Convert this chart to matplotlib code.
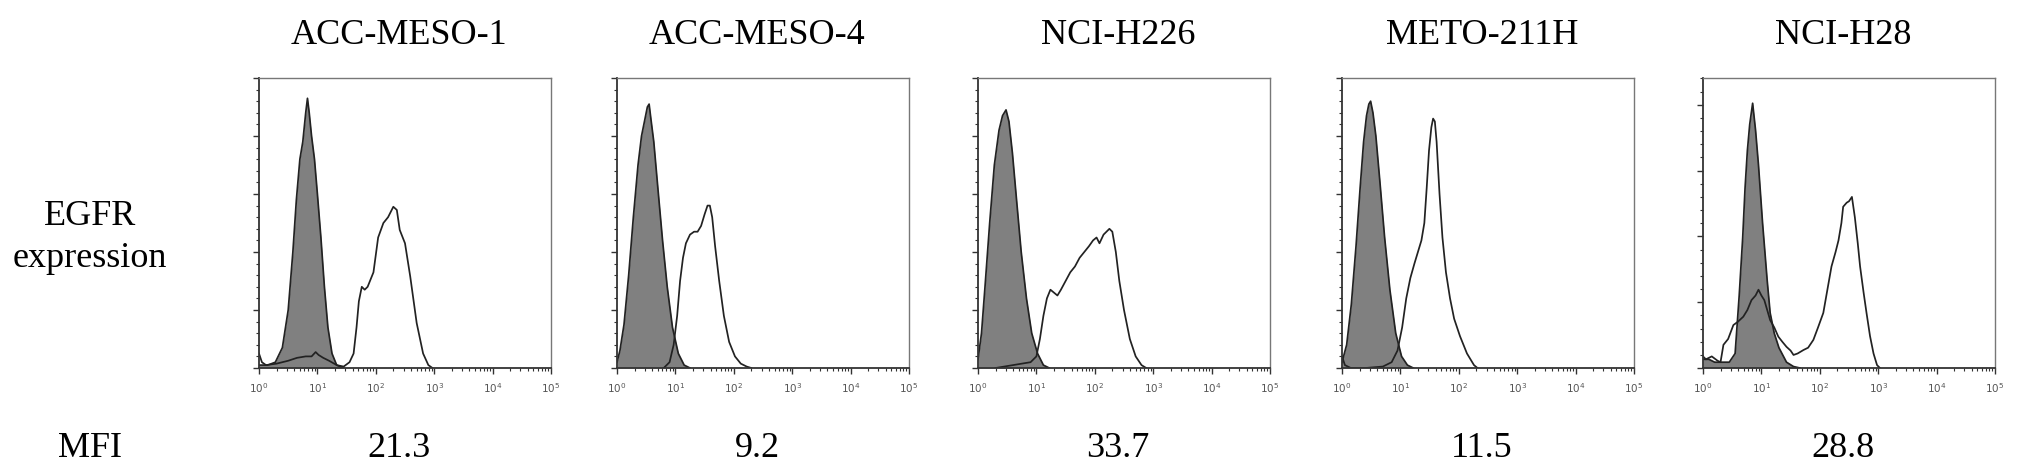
import numpy as np
import matplotlib
matplotlib.use("Agg")
import matplotlib.pyplot as plt
from matplotlib.ticker import LogLocator, MultipleLocator, NullFormatter

# cell lines and MFI values
cell_lines = ["ACC-MESO-1", "ACC-MESO-4", "NCI-H226", "METO-211H", "NCI-H28"]
mfi = ["21.3", "9.2", "33.7", "11.5", "28.8"]

# control (grey, filled) histograms: log10 intensity, fraction of axis height
iso_x = [
    [0.0, 0.15, 0.28, 0.40, 0.50, 0.58, 0.64, 0.70, 0.75, 0.80, 0.83, 0.86, 0.90, 0.95, 1.00, 1.06, 1.12, 1.18, 1.25, 1.33, 1.45],
    [0.0, 0.05, 0.12, 0.20, 0.28, 0.36, 0.42, 0.48, 0.52, 0.55, 0.58, 0.63, 0.70, 0.78, 0.86, 0.95, 1.05, 1.15, 1.25],
    [0.0, 0.06, 0.12, 0.20, 0.28, 0.36, 0.42, 0.48, 0.53, 0.59, 0.66, 0.74, 0.83, 0.92, 1.02, 1.12, 1.22],
    [0.0, 0.08, 0.16, 0.24, 0.31, 0.37, 0.42, 0.46, 0.49, 0.53, 0.58, 0.65, 0.73, 0.82, 0.92, 1.02, 1.12, 1.22],
    [0.0, 0.1, 0.2, 0.3, 0.45, 0.55, 0.62, 0.68, 0.72, 0.76, 0.80, 0.85, 0.90, 0.95, 1.02, 1.10, 1.15, 1.22, 1.30, 1.43, 1.55, 1.66],
]
iso_y = [
    [0.01, 0.01, 0.02, 0.07, 0.20, 0.40, 0.58, 0.72, 0.78, 0.88, 0.93, 0.88, 0.80, 0.72, 0.60, 0.45, 0.28, 0.14, 0.05, 0.01, 0.0],
    [0.02, 0.06, 0.15, 0.32, 0.52, 0.70, 0.80, 0.86, 0.90, 0.91, 0.86, 0.78, 0.62, 0.44, 0.28, 0.14, 0.05, 0.01, 0.0],
    [0.03, 0.12, 0.28, 0.50, 0.70, 0.82, 0.87, 0.89, 0.85, 0.74, 0.58, 0.40, 0.24, 0.12, 0.05, 0.01, 0.0],
    [0.02, 0.08, 0.22, 0.42, 0.62, 0.78, 0.87, 0.91, 0.92, 0.88, 0.80, 0.64, 0.45, 0.27, 0.12, 0.04, 0.01, 0.0],
    [0.03, 0.03, 0.02, 0.02, 0.02, 0.05, 0.25, 0.45, 0.62, 0.75, 0.84, 0.913, 0.82, 0.70, 0.50, 0.30, 0.19, 0.12, 0.07, 0.02, 0.005, 0.0],
]

# EGFR (open) histograms
egfr_x = [
    [0.0, 0.05, 0.12, 0.3, 0.5, 0.65, 0.8, 0.9, 0.97, 1.02, 1.1, 1.2, 1.33, 1.45, 1.55, 1.62, 1.67, 1.71, 1.76, 1.81, 1.86, 1.96, 2.04, 2.13, 2.21, 2.30, 2.36, 2.41, 2.50, 2.59, 2.70, 2.81, 2.90, 2.97],
    [0.80, 0.90, 0.97, 1.03, 1.08, 1.13, 1.18, 1.25, 1.32, 1.38, 1.44, 1.50, 1.55, 1.59, 1.63, 1.68, 1.75, 1.83, 1.92, 2.02, 2.12, 2.22, 2.30],
    [0.3, 0.6, 0.9, 1.0, 1.06, 1.12, 1.18, 1.24, 1.30, 1.36, 1.42, 1.50, 1.58, 1.66, 1.74, 1.82, 1.90, 1.97, 2.03, 2.08, 2.15, 2.20, 2.25, 2.30, 2.36, 2.42, 2.50, 2.60, 2.70, 2.80, 2.88],
    [0.0, 0.05, 0.15, 0.4, 0.7, 0.85, 0.95, 1.03, 1.10, 1.17, 1.24, 1.30, 1.36, 1.41, 1.45, 1.49, 1.53, 1.56, 1.59, 1.62, 1.67, 1.72, 1.78, 1.85, 1.92, 2.02, 2.14, 2.26, 2.32],
    [0.0, 0.05, 0.15, 0.25, 0.30, 0.35, 0.43, 0.52, 0.60, 0.69, 0.76, 0.83, 0.90, 0.95, 1.00, 1.05, 1.15, 1.22, 1.29, 1.36, 1.43, 1.50, 1.55, 1.62, 1.72, 1.80, 1.89, 1.97, 2.06, 2.13, 2.20, 2.27, 2.32, 2.37, 2.40, 2.46, 2.50, 2.55, 2.60, 2.65, 2.69, 2.75, 2.80, 2.86, 2.92, 2.98, 3.03],
]
egfr_y = [
    [0.05, 0.02, 0.01, 0.015, 0.025, 0.035, 0.04, 0.04, 0.055, 0.045, 0.035, 0.025, 0.01, 0.005, 0.02, 0.05, 0.14, 0.23, 0.28, 0.27, 0.28, 0.33, 0.45, 0.50, 0.52, 0.556, 0.545, 0.476, 0.43, 0.315, 0.155, 0.05, 0.01, 0.0],
    [0.0, 0.02, 0.08, 0.18, 0.30, 0.38, 0.43, 0.46, 0.47, 0.47, 0.49, 0.53, 0.56, 0.56, 0.52, 0.42, 0.30, 0.18, 0.09, 0.04, 0.015, 0.005, 0.0],
    [0.0, 0.01, 0.02, 0.04, 0.10, 0.18, 0.24, 0.27, 0.26, 0.25, 0.27, 0.30, 0.33, 0.35, 0.38, 0.40, 0.42, 0.44, 0.45, 0.43, 0.46, 0.47, 0.48, 0.47, 0.40, 0.30, 0.20, 0.10, 0.04, 0.01, 0.0],
    [0.04, 0.01, 0.0, 0.0, 0.005, 0.02, 0.06, 0.14, 0.24, 0.31, 0.36, 0.40, 0.44, 0.50, 0.62, 0.75, 0.83, 0.86, 0.85, 0.78, 0.60, 0.45, 0.33, 0.24, 0.17, 0.11, 0.05, 0.01, 0.0],
    [0.04, 0.03, 0.04, 0.025, 0.02, 0.08, 0.10, 0.148, 0.16, 0.177, 0.20, 0.234, 0.25, 0.27, 0.25, 0.234, 0.165, 0.14, 0.108, 0.09, 0.073, 0.06, 0.045, 0.05, 0.062, 0.07, 0.097, 0.14, 0.19, 0.27, 0.35, 0.40, 0.44, 0.50, 0.556, 0.57, 0.575, 0.59, 0.52, 0.43, 0.35, 0.26, 0.19, 0.11, 0.05, 0.01, 0.0],
]
ytick_step = [0.2, 0.2, 0.2, 0.2, 0.227]

W, H = 2031, 471
panel_left = [259, 617, 978, 1342, 1703]
panel_w = 292
panel_top, panel_bottom = 78, 368

serif = ["Liberation Serif", "DejaVu Serif"]
fig = plt.figure(figsize=(W / 100, H / 100), dpi=100)

for i, name in enumerate(cell_lines):
    ax = fig.add_axes([panel_left[i] / W, 1 - panel_bottom / H,
                       panel_w / W, (panel_bottom - panel_top) / H])
    gx = 10 ** np.array(iso_x[i])
    ex = 10 ** np.array(egfr_x[i])
    ax.fill_between(gx, iso_y[i], 0, color="#808080", lw=0)
    ax.plot(gx, iso_y[i], color="#222222", lw=1.25)
    ax.plot(ex, egfr_y[i], color="#222222", lw=1.25)
    ax.set_xscale("log")
    ax.set_xlim(1, 1e5)
    ax.set_ylim(0, 1)
    ax.xaxis.set_major_locator(LogLocator(base=10, numticks=10))
    ax.xaxis.set_minor_locator(LogLocator(base=10, subs=np.arange(2, 10), numticks=20))
    ax.xaxis.set_minor_formatter(NullFormatter())
    ax.yaxis.set_major_locator(MultipleLocator(ytick_step[i]))
    ax.yaxis.set_minor_locator(MultipleLocator(ytick_step[i] / 5))
    ax.set_yticklabels([])
    ax.tick_params(which="major", direction="out", length=4.5, width=1.0, color="#333333",
                   labelsize=7.5, labelcolor="#555555", pad=5)
    ax.tick_params(which="minor", direction="out", length=2.5, width=0.8, color="#333333")
    for s in ["left", "bottom"]:
        ax.spines[s].set_color("#333333")
        ax.spines[s].set_linewidth(1.3)
    for s in ["top", "right"]:
        ax.spines[s].set_color("#777777")
        ax.spines[s].set_linewidth(1.0)
    fig.canvas.draw()
    labs = ax.get_xticklabels()
    labs[0].set_horizontalalignment("left")
    labs[-1].set_horizontalalignment("right")

    cx = (panel_left[i] + panel_w / 2 - 6) / W
    fig.text(cx, 1 - 44 / H, name, ha="center", va="baseline", fontsize=26, family=serif)
    fig.text(cx, 1 - 457 / H, mfi[i], ha="center", va="baseline", fontsize=26, family=serif)

fig.text(90 / W, 1 - 225 / H, "EGFR", ha="center", va="baseline", fontsize=26, family=serif)
fig.text(90 / W, 1 - 267 / H, "expression", ha="center", va="baseline", fontsize=26, family=serif)
fig.text(90 / W, 1 - 457 / H, "MFI", ha="center", va="baseline", fontsize=26, family=serif)

fig.savefig("out.png", dpi=100, facecolor="white")
